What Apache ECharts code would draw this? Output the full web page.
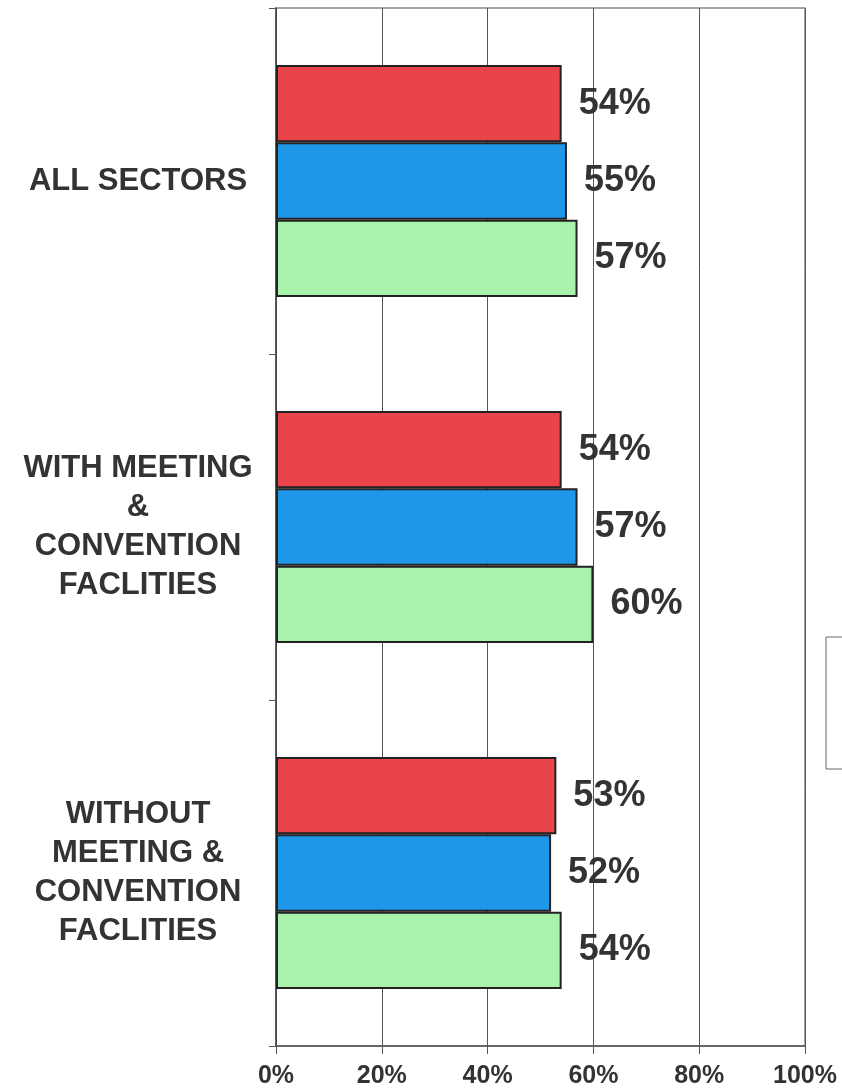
<!DOCTYPE html>
<html>
<head>
<meta charset="utf-8">
<script src="https://cdn.jsdelivr.net/npm/echarts@6/dist/echarts.min.js"></script>
<style>html,body{margin:0;padding:0;background:#fff}#c{width:842px;height:1091px}</style>
</head>
<body>
<div id="c"></div>
<script>
const categories = ['ALL SECTORS', 'WITH MEETING\n&\nCONVENTION\nFACLITIES', 'WITHOUT\nMEETING &\nCONVENTION\nFACLITIES'];
const seriesNames = ['Series 1', 'Series 2', 'Series 3'];
const redValues = [54, 54, 53];
const blueValues = [55, 57, 52];
const greenValues = [57, 60, 54];
const xTicks = [0, 20, 40, 60, 80, 100];

const colors = ['#E8444A', '#1E97E8', '#A9F2AC'];
const font = '"Liberation Sans", Arial, sans-serif';

const chart = echarts.init(document.getElementById('c'), null, {renderer: 'canvas'});
function mk(name, data, color) {
  return {
    name: name, type: 'bar', data: data,
    barGap: '0%', barCategoryGap: '33%',
    itemStyle: {color: color, borderColor: '#222', borderWidth: 2},
    label: {show: true, position: 'right', distance: 17, formatter: '{c}%',
      fontFamily: font, fontWeight: 'bold', fontSize: 36, color: '#333'}
  };
}
chart.setOption({
  animation: false,
  backgroundColor: '#fff',
  grid: {left: 276, right: 37, top: 8, bottom: 45, show: true, borderColor: '#888', borderWidth: 1.5},
  legend: {show: true, orient: 'vertical', left: 826, top: 637, padding: [20, 10, 20, 30],
    itemGap: 22, itemWidth: 14, itemHeight: 14, borderColor: '#666', borderWidth: 1,
    backgroundColor: '#fff', data: seriesNames, textStyle: {fontSize: 14}},
  xAxis: {
    type: 'value', min: xTicks[0], max: xTicks[xTicks.length - 1], interval: 20,
    axisLine: {show: true, lineStyle: {color: '#555', width: 1.5}},
    axisTick: {show: true, length: 8, lineStyle: {color: '#555'}},
    axisLabel: {formatter: '{value}%', fontFamily: font, fontWeight: 'bold', fontSize: 25, color: '#333', margin: 18},
    splitLine: {show: true, lineStyle: {color: '#555', width: 1}}
  },
  yAxis: {
    type: 'category', data: categories, inverse: true,
    axisLine: {show: true, lineStyle: {color: '#444', width: 1.5}},
    axisTick: {show: true, length: 7, alignWithLabel: false, lineStyle: {color: '#555'}},
    axisLabel: {fontFamily: font, fontWeight: 'bold', fontSize: 31, lineHeight: 39, color: '#333',
      align: 'center', margin: 138},
    splitLine: {show: false}
  },
  series: [mk(seriesNames[0], redValues, colors[0]), mk(seriesNames[1], blueValues, colors[1]), mk(seriesNames[2], greenValues, colors[2])]
});
</script>
</body>
</html>
